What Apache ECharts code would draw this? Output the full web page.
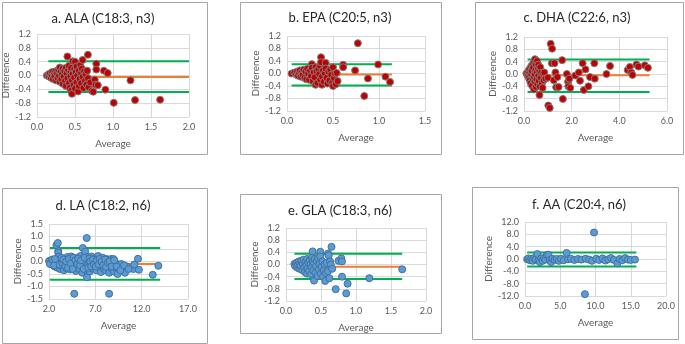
<!DOCTYPE html>
<html>
<head>
<meta charset="utf-8">
<script src="https://cdn.jsdelivr.net/npm/echarts@6/dist/echarts.min.js"></script>
<style>
  html, body { margin: 0; padding: 0; background: #fff; }
  #chart-container { width: 685px; height: 344px; }
</style>
</head>
<body>
<div id="chart-container"></div>
<script>
var dom = document.getElementById("chart-container");
var myChart = echarts.init(dom, null, { renderer: "canvas" });

// panel titles
var titles = [
  "a. ALA (C18:3, n3)",
  "b. EPA (C20:5, n3)",
  "c. DHA (C22:6, n3)",
  "d. LA (C18:2, n6)",
  "e. GLA (C18:3, n6)",
  "f. AA (C20:4, n6)"
];

// [average, difference]
var alaPoints = [
  [0.13,0.0],[0.15,0.03],[0.16,-0.03],[0.17,0.06],[0.18,-0.06],[0.19,0.02],[0.2,0.1],[0.21,-0.1],
  [0.22,0.04],[0.23,-0.02],[0.24,0.12],[0.25,-0.14],[0.26,0.07],[0.27,-0.07],[0.28,0.16],[0.29,0.0],
  [0.3,0.23],[0.3,-0.18],[0.31,0.1],[0.32,-0.1],[0.33,0.04],[0.34,0.2],[0.34,-0.24],[0.35,-0.03],
  [0.36,0.13],[0.37,-0.15],[0.38,0.22],[0.38,-0.3],[0.39,0.06],[0.4,0.55],[0.4,-0.08],[0.41,0.16],
  [0.42,-0.22],[0.42,0.28],[0.43,-0.36],[0.44,0.1],[0.44,-0.02],[0.45,-0.44],[0.45,0.22],[0.46,-0.53],
  [0.46,-0.14],[0.47,0.41],[0.47,0.05],[0.48,-0.28],[0.49,0.18],[0.49,-0.06],[0.5,0.4],[0.5,-0.38],
  [0.51,0.1],[0.52,-0.2],[0.52,0.26],[0.53,0.0],[0.54,-0.46],[0.55,0.14],[0.55,-0.3],[0.56,-0.1],
  [0.57,0.3],[0.58,0.06],[0.58,-0.22],[0.59,0.2],[0.6,0.45],[0.6,-0.04],[0.61,-0.36],[0.62,0.12],
  [0.63,-0.16],[0.64,0.04],[0.65,-0.26],[0.66,0.14],[0.67,0.6],[0.67,-0.08],[0.68,-0.34],[0.7,-0.2],
  [0.72,-0.44],[0.74,-0.47],[0.76,-0.12],[0.78,0.34],[0.78,0.17],[0.77,-0.27],[0.8,-0.28],[0.88,0.14],
  [0.9,-0.41],[0.93,0.07],[1.01,-0.79],[1.23,-0.14],[1.29,-0.71],[1.62,-0.7]
];
var epaPoints = [
  [0.05,0.0],[0.08,0.03],[0.1,-0.03],[0.11,0.06],[0.12,-0.07],[0.13,0.02],[0.14,0.1],[0.15,-0.1],
  [0.16,0.04],[0.17,-0.04],[0.18,0.12],[0.19,-0.14],[0.2,0.07],[0.21,-0.18],[0.22,0.15],[0.23,0.0],
  [0.24,-0.2],[0.25,0.1],[0.26,-0.08],[0.27,0.3],[0.27,0.18],[0.28,-0.24],[0.29,0.04],[0.3,-0.12],
  [0.31,0.2],[0.31,-0.36],[0.32,0.08],[0.33,-0.3],[0.34,0.14],[0.35,-0.02],[0.36,0.24],[0.36,-0.2],
  [0.37,0.52],[0.37,0.36],[0.38,-0.1],[0.38,-0.36],[0.39,0.1],[0.4,-0.26],[0.41,0.0],[0.42,0.34],
  [0.42,0.16],[0.43,-0.14],[0.44,-0.32],[0.45,0.06],[0.46,-0.22],[0.47,0.12],[0.48,-0.04],[0.49,-0.3],
  [0.5,0.2],[0.5,-0.4],[0.51,-0.14],[0.52,0.0],[0.53,-0.34],[0.54,0.02],[0.55,-0.24],[0.61,0.28],
  [0.61,0.2],[0.74,0.1],[0.77,0.97],[0.84,-0.72],[0.88,-0.16],[0.99,0.29],[1.07,-0.1],[1.12,-0.27]
];
var dhaPoints = [
  [0.1,0.02],[0.15,-0.05],[0.18,0.08],[0.2,-0.12],[0.22,0.15],[0.24,-0.2],[0.26,0.05],[0.28,-0.3],
  [0.3,0.25],[0.3,-0.02],[0.32,0.1],[0.34,-0.38],[0.35,0.3],[0.36,-0.15],[0.38,0.2],[0.4,-0.08],
  [0.42,0.4],[0.42,-0.5],[0.44,0.0],[0.45,-0.25],[0.46,0.48],[0.48,0.12],[0.5,-0.42],[0.5,0.3],
  [0.52,-0.18],[0.54,0.06],[0.55,0.42],[0.56,-0.32],[0.58,0.2],[0.6,-0.05],[0.6,0.3],[0.62,-0.22],
  [0.64,0.1],[0.65,-0.68],[0.66,-0.4],[0.68,0.22],[0.7,-0.12],[0.72,0.04],[0.75,-0.3],[0.78,-0.45],
  [0.8,0.0],[0.82,-0.2],[0.85,0.05],[0.9,-0.15],[1.0,-0.12],[1.02,-1.02],[1.08,-1.1],[1.12,0.98],
  [1.18,0.82],[1.17,0.35],[1.25,-0.2],[1.28,0.35],[1.32,0.05],[1.35,-0.43],[1.4,-0.1],[1.45,-0.42],
  [1.6,0.45],[1.63,-0.81],[1.8,0.0],[1.85,-0.25],[1.86,-0.4],[1.9,-0.15],[1.94,-0.45],[2.15,-0.05],
  [2.3,0.05],[2.35,-0.22],[2.46,0.35],[2.51,-0.52],[2.58,0.15],[2.7,-0.4],[2.77,-0.1],[2.95,0.35],
  [2.97,-0.15],[3.46,0.0],[3.61,0.26],[4.35,0.13],[4.44,0.23],[4.5,0.05],[4.55,-0.03],[4.72,0.31],
  [4.8,0.24],[5.07,0.28],[5.2,0.2]
];
var laPoints = [
  [2.0,0.02],[2.2,-0.05],[2.3,0.05],[2.4,-0.12],[2.5,0.0],[2.6,-0.2],[2.7,0.06],[2.8,-0.08],
  [2.8,0.65],[2.9,-0.25],[2.95,0.74],[3.0,0.41],[3.0,0.35],[3.05,0.2],[3.1,-0.02],[3.2,-0.3],
  [3.2,0.1],[3.3,-0.15],[3.4,0.05],[3.5,-0.22],[3.6,-0.35],[3.7,0.12],[3.8,-0.1],[3.9,-0.28],
  [4.0,0.18],[4.0,-0.05],[4.1,-0.18],[4.2,0.02],[4.3,-0.32],[4.4,0.2],[4.5,-0.12],[4.6,0.08],
  [4.7,-0.25],[4.73,-1.29],[4.8,-0.05],[4.9,-0.38],[5.0,0.14],[5.1,-0.2],[5.2,0.0],[5.3,-0.3],
  [5.4,0.22],[5.5,-0.1],[5.6,-0.45],[5.65,0.54],[5.7,0.1],[5.8,-0.22],[5.9,0.4],[5.95,-0.02],
  [6.0,-0.35],[6.07,0.94],[6.1,-0.63],[6.15,0.18],[6.2,-0.15],[6.3,0.05],[6.4,-0.4],[6.5,-0.08],
  [6.6,0.2],[6.7,-0.28],[6.8,0.0],[6.9,-0.18],[7.0,0.12],[7.1,-0.35],[7.2,-0.05],[7.3,0.22],
  [7.4,-0.22],[7.5,0.05],[7.6,-0.42],[7.7,-0.1],[7.8,0.15],[7.9,-0.28],[8.0,-0.02],[8.1,-0.35],
  [8.2,0.1],[8.3,-0.18],[8.4,0.05],[8.49,-1.29],[8.5,-0.45],[8.6,-0.08],[8.7,0.1],[8.8,-0.3],
  [8.9,-0.15],[8.95,0.1],[9.0,-0.4],[9.1,-0.05],[9.2,-0.25],[9.4,-0.5],[9.5,-0.12],[9.6,-0.3],
  [9.8,-0.1],[10.0,-0.35],[10.2,-0.45],[10.4,-0.2],[11.1,-0.3],[11.2,-0.12],[11.6,0.11],[11.7,-0.33],
  [13.2,-0.53],[13.8,-0.17],
  [2.1,-0.1],[2.35,0.08],[2.55,-0.15],[2.65,0.1],[3.15,-0.12],[3.35,0.15],[3.45,-0.05],[3.55,0.08],
  [3.75,-0.18],[3.85,0.0],[4.05,-0.25],[4.15,0.1],[4.35,-0.08],[4.55,-0.3],[4.65,0.15],[4.85,0.05],
  [5.05,-0.1],[5.15,0.12],[5.35,-0.15],[5.45,0.05],[5.75,-0.3],[5.85,0.15],[6.25,-0.25],[6.35,0.12],
  [6.45,0.0],[6.55,-0.2],[6.75,0.08],[6.85,-0.12],[7.05,-0.2],[7.15,0.05],[7.35,-0.12],[7.45,0.1],
  [7.65,0.0],[7.85,-0.15],[8.05,0.08],[8.15,-0.22],[8.35,-0.05],[8.55,0.0],[8.75,-0.2],[9.05,0.05],
  [9.3,-0.2],[9.7,-0.35],[10.1,-0.15],[10.6,-0.3]
];
var glaPoints = [
  [0.12,0.02],[0.13,-0.05],[0.15,0.06],[0.16,-0.1],[0.17,0.0],[0.18,0.1],[0.19,-0.14],[0.2,0.04],
  [0.21,-0.06],[0.22,0.12],[0.23,-0.18],[0.24,0.02],[0.25,0.16],[0.26,-0.1],[0.27,-0.25],[0.28,0.08],
  [0.29,-0.04],[0.3,0.18],[0.3,-0.3],[0.31,-0.14],[0.32,0.06],[0.33,-0.22],[0.34,0.14],[0.35,0.0],
  [0.36,-0.32],[0.37,0.22],[0.37,-0.1],[0.38,0.43],[0.38,0.1],[0.39,-0.2],[0.4,-0.53],[0.4,0.04],
  [0.41,0.18],[0.42,-0.28],[0.43,-0.06],[0.44,0.12],[0.45,-0.38],[0.46,0.2],[0.47,-0.16],[0.48,0.02],
  [0.49,0.42],[0.49,0.26],[0.5,-0.3],[0.51,-0.08],[0.52,0.1],[0.53,-0.4],[0.54,-0.2],[0.55,0.0],
  [0.56,-0.54],[0.57,-0.28],[0.58,0.05],[0.6,0.36],[0.6,-0.22],[0.61,0.3],[0.62,-0.45],[0.63,0.1],
  [0.64,0.0],[0.65,0.58],[0.66,-0.14],[0.71,-0.81],[0.75,0.12],[0.79,0.2],[0.8,0.1],[0.8,-0.4],
  [0.86,-0.95],[0.88,-0.63],[1.19,-0.45],[1.66,-0.16]
];
var aaPoints = [
  [0.3,-0.1],[0.5,0.2],[0.7,-0.4],[0.9,0.1],[1.1,-0.6],[1.3,0.3],[1.5,-0.2],[1.75,1.6],
  [1.9,-0.5],[2.1,-1.0],[2.3,0.2],[2.5,-0.6],[2.7,0.3],[2.9,-0.2],[3.1,1.3],[3.3,1.4],
  [3.5,-0.4],[3.7,-1.0],[3.9,0.1],[4.2,-0.3],[4.5,0.0],[4.8,-0.6],[5.1,0.1],[5.5,-0.4],
  [5.9,1.95],[6.1,-0.1],[6.5,0.1],[7.0,-0.3],[7.5,0.0],[8.0,-0.2],[8.5,-11.4],[8.6,0.1],
  [9.1,-0.2],[9.5,-0.6],[9.79,8.6],[10.1,0.1],[10.5,-0.3],[11.0,0.2],[11.4,-0.5],[11.8,-0.1],
  [12.2,0.3],[12.6,-0.3],[13.1,-1.4],[13.4,0.0],[13.8,-0.4],[14.2,0.3],[14.6,-0.2],[15.0,-0.3],
  [15.6,-0.2]
];

// limits of agreement [upper, mean, lower] and the x span they are drawn over
var upperLimits = [0.41, 0.30, 0.47, 0.54, 0.35, 2.1];
var meanDiffs = [-0.04, -0.03, -0.04, -0.1, -0.07, -0.15];
var lowerLimits = [-0.48, -0.38, -0.58, -0.73, -0.48, -2.4];
var lineStart = [0.15, 0.05, 0.15, 2.1, 0.12, 0.3];
var lineEnd = [2.0, 1.14, 5.27, 14.0, 1.66, 15.8];

// axis ranges [min, max, interval]
var xRanges = [[0, 2, 0.5], [0, 1.5, 0.5], [0, 6, 2], [2, 17, 5], [0, 2, 0.5], [0, 20, 5]];
var yRanges = [[-1.2, 1.2, 0.4], [-1.2, 1.2, 0.4], [-1.2, 1.2, 0.4], [-1.5, 1.5, 0.5], [-1.2, 1.2, 0.4], [-12, 12, 4]];

var allPoints = [alaPoints, epaPoints, dhaPoints, laPoints, glaPoints, aaPoints];

// layout (pixels)
var grids = [
  { left: 37, top: 34, width: 152, height: 83 },
  { left: 287, top: 36, width: 138, height: 75 },
  { left: 524, top: 37, width: 143, height: 74 },
  { left: 49, top: 224, width: 139, height: 75 },
  { left: 286, top: 228, width: 140, height: 73 },
  { left: 525, top: 222, width: 141, height: 74 }
];
var boxes = [
  [2, 2, 205, 152], [240, 2, 201, 152], [475, 2, 208, 152],
  [2, 188, 205, 155], [240, 194, 201, 139], [472, 187, 206, 152]
];
var titlePos = [[103, 19], [340, 18], [577, 18], [103, 206], [340, 211], [579, 205]];

var font = "Lato, 'Open Sans', sans-serif";
var labelColor = "#595959";

var option = {
  animation: false,
  backgroundColor: "#fff",
  title: [],
  grid: [],
  xAxis: [],
  yAxis: [],
  series: [],
  graphic: []
};

for (var i = 0; i < 6; i++) {
  var g = grids[i];
  option.grid.push({ left: g.left, top: g.top, width: g.width, height: g.height, containLabel: false });

  option.title.push({
    text: titles[i],
    left: titlePos[i][0],
    top: titlePos[i][1],
    textAlign: "center",
    textVerticalAlign: "middle",
    padding: 0,
    textStyle: { fontFamily: font, fontSize: 13, fontWeight: "normal", color: "#262626" }
  });

  option.xAxis.push({
    type: "value",
    gridIndex: i,
    min: xRanges[i][0],
    max: xRanges[i][1],
    interval: xRanges[i][2],
    name: "Average",
    nameLocation: "middle",
    nameGap: 22,
    nameTextStyle: { fontFamily: font, fontSize: 10, color: labelColor },
    axisLine: { show: false },
    axisTick: { show: false },
    axisLabel: {
      margin: 6,
      fontFamily: font,
      fontSize: 9,
      color: labelColor,
      formatter: function (v) { return v.toFixed(1); }
    },
    splitLine: { show: true, lineStyle: { color: "#d9d9d9", width: 1 } }
  });

  option.yAxis.push({
    type: "value",
    gridIndex: i,
    min: yRanges[i][0],
    max: yRanges[i][1],
    interval: yRanges[i][2],
    name: "Difference",
    nameLocation: "middle",
    nameGap: i === 5 ? 26 : 21,
    nameTextStyle: { fontFamily: font, fontSize: 10, color: labelColor },
    axisLine: { show: false },
    axisTick: { show: false },
    axisLabel: {
      margin: 6,
      fontFamily: font,
      fontSize: 9,
      color: labelColor,
      formatter: function (v) { return v.toFixed(1); }
    },
    splitLine: { show: true, lineStyle: { color: "#d9d9d9", width: 1 } }
  });

  var limitLines = [
    [upperLimits[i], "#00B050"],
    [lowerLimits[i], "#00B050"],
    [meanDiffs[i], "#ED7D31"]
  ];
  limitLines.forEach(function (l) {
    option.series.push({
      type: "line",
      xAxisIndex: i,
      yAxisIndex: i,
      data: [[lineStart[i], l[0]], [lineEnd[i], l[0]]],
      showSymbol: false,
      silent: true,
      z: 1,
      lineStyle: { color: l[1], width: 2 }
    });
  });

  var red = i < 3;
  option.series.push({
    type: "scatter",
    xAxisIndex: i,
    yAxisIndex: i,
    data: allPoints[i],
    symbolSize: 7,
    z: 3,
    itemStyle: {
      color: red ? "#C00000" : "#5B9BD5",
      borderColor: red ? "#7f7f7f" : "#41719C",
      borderWidth: 1,
      opacity: 1
    }
  });

  option.graphic.push({
    type: "rect",
    shape: { x: boxes[i][0] + 0.5, y: boxes[i][1] + 0.5, width: boxes[i][2], height: boxes[i][3] },
    style: { fill: null, stroke: "#a6a6a6", lineWidth: 1 },
    silent: true,
    z: 0
  });
}

myChart.setOption(option);

window.addEventListener("resize", function () {
  myChart.resize();
});
</script>
</body>
</html>
